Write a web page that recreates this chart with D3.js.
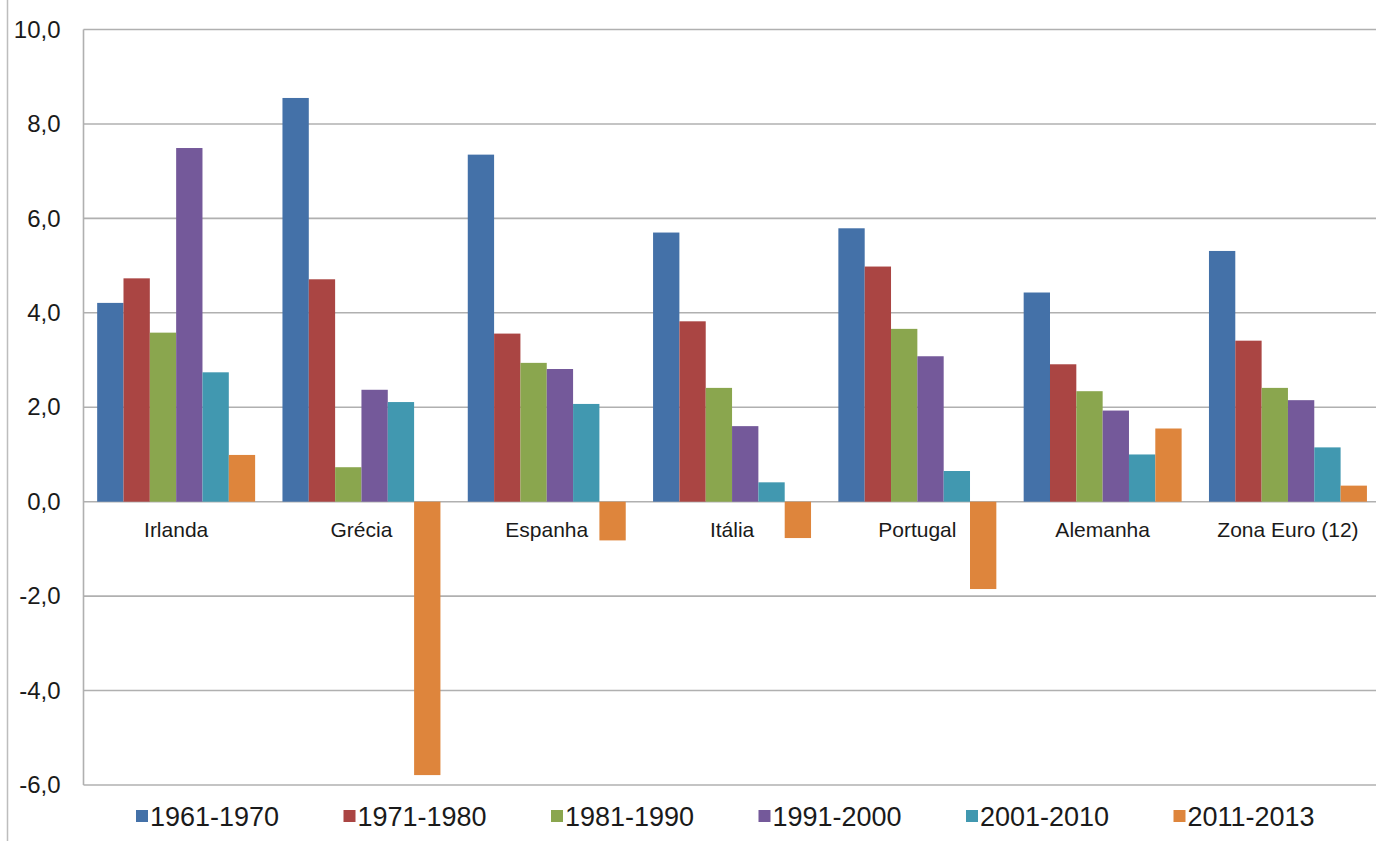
<!DOCTYPE html>
<html>
<head>
<meta charset="utf-8">
<script src="https://cdn.jsdelivr.net/npm/d3@7"></script>
<style>
  html, body { margin: 0; padding: 0; background: #fff; }
  svg { display: block; font-family: "Liberation Sans", Arial, sans-serif; }
</style>
</head>
<body>
<svg id="chart" width="1376" height="841"></svg>
<script>
// Average annual real GDP growth (%) by decade
const countries = ["Irlanda", "Grécia", "Espanha", "Itália", "Portugal", "Alemanha", "Zona Euro (12)"];
const periods = ["1961-1970", "1971-1980", "1981-1990", "1991-2000", "2001-2010", "2011-2013"];

const v1961_1970 = [4.21, 8.55, 7.35, 5.70, 5.79, 4.43, 5.31];
const v1971_1980 = [4.73, 4.71, 3.56, 3.82, 4.98, 2.91, 3.41];
const v1981_1990 = [3.58, 0.73, 2.94, 2.41, 3.66, 2.34, 2.41];
const v1991_2000 = [7.49, 2.37, 2.81, 1.60, 3.08, 1.93, 2.15];
const v2001_2010 = [2.74, 2.11, 2.07, 0.41, 0.65, 1.00, 1.15];
const v2011_2013 = [0.99, -5.79, -0.82, -0.77, -1.85, 1.55, 0.34];

const yTicks = [-6, -4, -2, 0, 2, 4, 6, 8, 10];
const colors = ["#4471A8", "#AA4543", "#8AA64E", "#74599A", "#4198B0", "#DE853C"];

const seriesValues = [v1961_1970, v1971_1980, v1981_1990, v1991_2000, v2001_2010, v2011_2013];

const svg = d3.select("#chart");
const W = 1376, H = 841;

// Plot area (extends slightly beyond the right edge of the canvas)
const plot = { left: 83.5, top: 29.5, bottom: 785, width: 7 * 185.3 };

const x0 = d3.scaleBand()
  .domain(countries)
  .range([plot.left, plot.left + plot.width])
  .paddingInner(0.1475)
  .paddingOuter(0.07375);

const x1 = d3.scaleBand()
  .domain(periods)
  .range([0, x0.bandwidth()])
  .padding(0);

const y = d3.scaleLinear()
  .domain([-6, 10])
  .range([plot.bottom, plot.top]);

// Portuguese decimal comma, plain hyphen for negatives
const fmt = v => (v < 0 ? "-" : "") + d3.format(".1f")(Math.abs(v)).replace(".", ",");

// Outer chart frame (left edge)
svg.append("line")
  .attr("x1", 7.5).attr("x2", 7.5)
  .attr("y1", 0).attr("y2", H)
  .attr("stroke", "#BDBDBD").attr("stroke-width", 1.5);

// Gridlines
svg.append("g")
  .selectAll("line")
  .data(yTicks)
  .join("line")
  .attr("x1", plot.left).attr("x2", W)
  .attr("y1", d => y(d)).attr("y2", d => y(d))
  .attr("stroke", "#B0B0B0").attr("stroke-width", 1.6);

// Left axis line
svg.append("line")
  .attr("x1", plot.left).attr("x2", plot.left)
  .attr("y1", y(10)).attr("y2", y(-6))
  .attr("stroke", "#B0B0B0").attr("stroke-width", 1.6);

// Y axis labels
const yAxis = d3.axisLeft(y).tickValues(yTicks).tickFormat(fmt).tickSize(0).tickPadding(0);
const yG = svg.append("g")
  .attr("transform", `translate(${plot.left - 23},0)`)
  .call(yAxis);
yG.select(".domain").remove();
yG.selectAll("text")
  .attr("font-size", 24)
  .attr("font-family", "Liberation Sans, Arial, sans-serif")
  .attr("fill", "#1a1a1a");

// Bars
const groups = svg.append("g")
  .selectAll("g")
  .data(countries)
  .join("g")
  .attr("transform", d => `translate(${x0(d)},0)`);

groups.selectAll("rect")
  .data((c, ci) => periods.map((p, pi) => ({ p, v: seriesValues[pi][ci], color: colors[pi] })))
  .join("rect")
  .attr("x", d => x1(d.p))
  .attr("width", x1.bandwidth())
  .attr("y", d => y(Math.max(0, d.v)))
  .attr("height", d => Math.abs(y(d.v) - y(0)))
  .attr("fill", d => d.color);

// Category labels next to the zero line
const xAxis = d3.axisBottom(x0).tickSize(0).tickPadding(0);
const xG = svg.append("g")
  .attr("transform", `translate(0,${y(0)})`)
  .call(xAxis);
xG.select(".domain").remove();
xG.selectAll("text")
  .attr("y", 35)
  .attr("dy", null)
  .attr("font-size", 21)
  .attr("font-family", "Liberation Sans, Arial, sans-serif")
  .attr("fill", "#1a1a1a");

// Legend
const legendX = d3.scalePoint()
  .domain(periods)
  .range([136, 1173.5]);

const legend = svg.append("g")
  .selectAll("g")
  .data(periods)
  .join("g")
  .attr("transform", d => `translate(${legendX(d)},816)`);

legend.append("rect")
  .attr("x", 0).attr("y", -6)
  .attr("width", 12).attr("height", 12)
  .attr("fill", (d, i) => colors[i]);

legend.append("text")
  .attr("x", 14)
  .attr("y", 0)
  .attr("dy", "0.36em")
  .attr("font-size", 27)
  .attr("fill", "#1a1a1a")
  .text(d => d);
</script>
</body>
</html>
